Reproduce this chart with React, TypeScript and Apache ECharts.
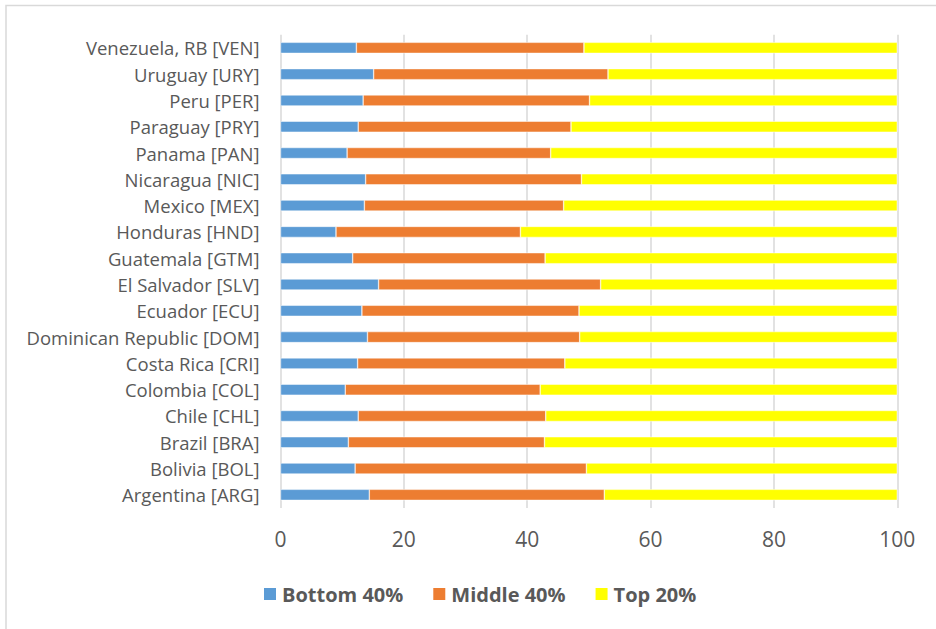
import React, { useEffect, useRef } from "react";
import * as echarts from "echarts";

const categories = [
  "Argentina [ARG]",
  "Bolivia [BOL]",
  "Brazil [BRA]",
  "Chile [CHL]",
  "Colombia [COL]",
  "Costa Rica [CRI]",
  "Dominican Republic [DOM]",
  "Ecuador [ECU]",
  "El Salvador [SLV]",
  "Guatemala [GTM]",
  "Honduras [HND]",
  "Mexico [MEX]",
  "Nicaragua [NIC]",
  "Panama [PAN]",
  "Paraguay [PRY]",
  "Peru [PER]",
  "Uruguay [URY]",
  "Venezuela, RB [VEN]",
];

const bottom40 = [14.4, 12.1, 11.0, 12.6, 10.5, 12.5, 14.1, 13.2, 15.9, 11.7, 9.0, 13.6, 13.8, 10.8, 12.6, 13.4, 15.1, 12.3];
const middle40 = [38.1, 37.5, 31.8, 30.4, 31.6, 33.6, 34.4, 35.2, 36.0, 31.2, 29.9, 32.3, 35.0, 33.0, 34.5, 36.7, 38.0, 36.9];
const top20 = [47.5, 50.4, 57.2, 57.0, 57.9, 53.9, 51.5, 51.6, 48.1, 57.1, 61.1, 54.1, 51.2, 56.2, 52.9, 49.9, 46.9, 50.8];

const xTicks = [0, 20, 40, 60, 80, 100];

const seriesNames = ["Bottom 40%", "Middle 40%", "Top 20%"];
const seriesColors = ["#5B9BD5", "#ED7D31", "#FFFF00"];

export default function App() {
  const ref = useRef<HTMLDivElement>(null);
  useEffect(() => {
    if (!ref.current) return;
    const chart = echarts.init(ref.current, null, { renderer: "svg" });
    const values = [bottom40, middle40, top20];
    chart.setOption({
      animation: false,
      backgroundColor: "#ffffff",
      textStyle: { fontFamily: "Open Sans" },
      graphic: [
        {
          type: "rect",
          shape: { x: 6, y: 5.5, width: 960, height: 660 },
          style: { fill: "none", stroke: "#D9D9D9", lineWidth: 1.5 },
          silent: true,
        },
      ],
      grid: { left: 280.5, right: 38.7, top: 34.7, bottom: 121, containLabel: false },
      legend: {
        data: seriesNames,
        left: 257,
        top: 579,
        icon: "rect",
        itemWidth: 14,
        itemHeight: 14,
        itemGap: 28,
        textStyle: { color: "#595959", fontSize: 20, fontWeight: "bold", fontFamily: "Open Sans" },
      },
      xAxis: {
        type: "value",
        min: xTicks[0],
        max: xTicks[xTicks.length - 1],
        interval: 20,
        axisLine: { show: false },
        axisTick: { show: false },
        splitLine: { show: true, lineStyle: { color: "#D9D9D9", width: 1.5 } },
        axisLabel: { color: "#595959", fontSize: 21, margin: 20, fontFamily: "Open Sans" },
      },
      yAxis: {
        type: "category",
        data: categories,
        axisLine: { show: false },
        axisTick: { show: false },
        axisLabel: { color: "#595959", fontSize: 18.5, margin: 21, fontFamily: "Open Sans" },
      },
      series: seriesNames.map((name, i) => ({
        name,
        type: "bar",
        stack: "total",
        barWidth: 11,
        data: values[i],
        itemStyle: { color: seriesColors[i], borderColor: "#ffffff", borderWidth: 0.5 },
      })),
    });
    return () => chart.dispose();
  }, []);
  return <div ref={ref} style={{ position: "absolute", left: 0, top: 0, width: 936, height: 629 }} />;
}
